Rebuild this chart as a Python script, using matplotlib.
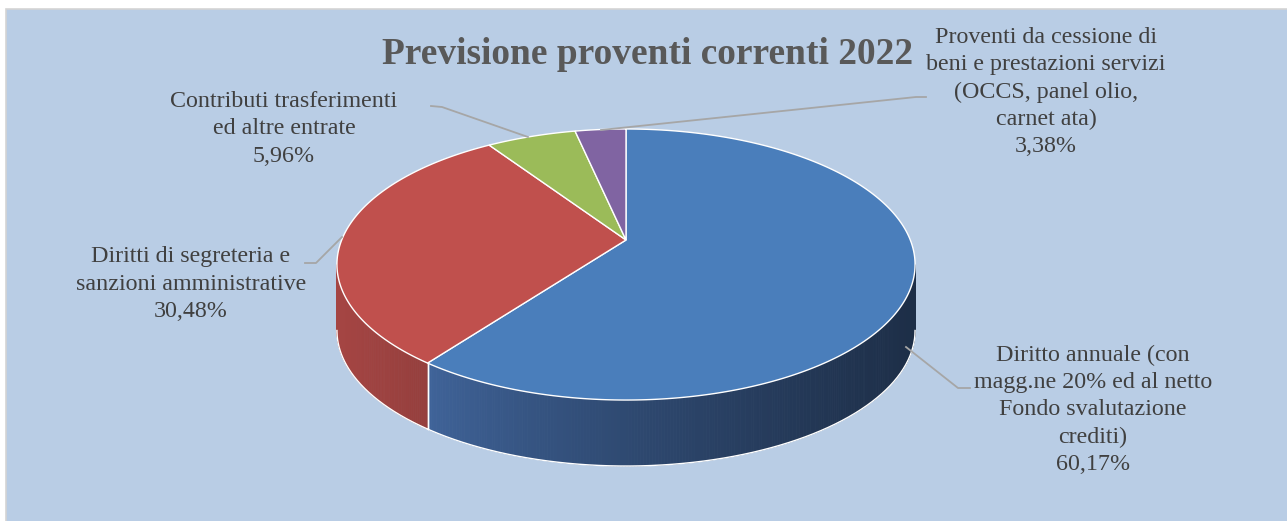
import numpy as np
import matplotlib
matplotlib.use("Agg")
import matplotlib.pyplot as plt
from matplotlib.patches import Polygon, Rectangle
from matplotlib.colors import to_rgb

# ---- data ----
categories = [
    "Diritto annuale (con\nmagg.ne 20% ed al netto\nFondo svalutazione\ncrediti)",
    "Diritti di segreteria e\nsanzioni amministrative",
    "Contributi trasferimenti\ned altre entrate",
    "Proventi da cessione di\nbeni e prestazioni servizi\n(OCCS, panel olio,\ncarnet ata)",
]
values = [60.17, 30.48, 5.96, 3.38]
pct_labels = ["60,17%", "30,48%", "5,96%", "3,38%"]
title = "Previsione proventi correnti 2022"

top_colors = ["#4A7EBB", "#C0504D", "#9BBB59", "#8064A2"]
side_left = ["#40649A", "#A54543", "#87A24D", "#6E568C"]
side_right = ["#1D2E47", "#953F3D", "#7A9446", "#614C7C"]

W, H = 1287, 521
fig = plt.figure(figsize=(W / 100, H / 100), dpi=100)
fig.patch.set_facecolor("white")
ax = fig.add_axes([0, 0, 1, 1])
ax.set_xlim(0, W)
ax.set_ylim(H, 0)
ax.axis("off")

# panel
ax.add_patch(Rectangle((6, 9), W + 20, H + 20, facecolor="#B9CDE5",
                       edgecolor="#D4D4D4", linewidth=1.2, zorder=0))

# 3D pie projection (perspective homography)
cx, cy = 626, 240
A, B, k = 284.3, 131.1, 0.1808
depth = 66


def proj(phi_deg, dz=0.0):
    p = np.radians(phi_deg)
    u, v = np.sin(p), np.cos(p)
    d = 1 + k * v
    return cx + A * u / d, cy - B * v / d + dz


frac = np.array(values) / sum(values)
bounds = np.concatenate([[0], np.cumsum(frac) * 360])

# visible side range
phi_r = np.degrees(np.arccos(-k))
phi_l = 360 - phi_r

# sides
for i in range(len(values)):
    a0 = max(bounds[i], phi_r)
    a1 = min(bounds[i + 1], phi_l)
    if a1 <= a0:
        continue
    n = max(int((a1 - a0) * 2), 2)
    ph = np.linspace(a0, a1, n + 1)
    x_lo = proj(a1)[0]
    x_hi = proj(a0)[0]
    cl = np.array(to_rgb(side_left[i]))
    cr = np.array(to_rgb(side_right[i]))
    for j in range(n):
        p1 = proj(ph[j]); p2 = proj(ph[j + 1])
        xm = (p1[0] + p2[0]) / 2
        t = (xm - x_lo) / max(x_hi - x_lo, 1)
        t = np.clip(t, 0, 1) ** 0.8 if i == 0 else np.clip(t, 0, 1)
        col = cl * (1 - t) + cr * t
        poly = [p1, p2, (p2[0], p2[1] + depth), (p1[0], p1[1] + depth)]
        ax.add_patch(Polygon(poly, closed=True, facecolor=col, edgecolor=col,
                             linewidth=0.6, zorder=2))
    # white outlines of side
    phb = np.linspace(a0, a1, 200)
    pts = np.array([proj(q, depth) for q in phb])
    ax.plot(pts[:, 0], pts[:, 1], color="white", lw=1.0, zorder=3)
    for a in (a0, a1):
        if a in (bounds[i], bounds[i + 1]) and phi_r < a < phi_l:
            p = proj(a)
            ax.plot([p[0], p[0]], [p[1], p[1] + depth], color="white", lw=1.0, zorder=3)

# top faces
for i in range(len(values)):
    ph = np.linspace(bounds[i], bounds[i + 1], 300)
    pts = [(cx, cy)] + [proj(q) for q in ph]
    ax.add_patch(Polygon(pts, closed=True, facecolor=top_colors[i],
                         edgecolor="white", linewidth=1.0, zorder=4))

# title
ax.text(648, 54, title, ha="center", va="center", fontsize=26.9,
        fontweight="bold", color="#595959", family="Liberation Serif")

# labels and leaders
label_pos = [(1093, 410), (191, 284), (284, 129), (1046, 92)]
leaders = [
    [(906, 347), (958, 388), (970, 388)],
    [(342, 237), (316, 263), (305, 263)],
    [(528, 137), (442, 107), (431, 106)],
    [(601, 130), (916, 97), (926, 97)],
]
for i in range(len(values)):
    ax.text(label_pos[i][0], label_pos[i][1], categories[i] + "\n" + pct_labels[i],
            ha="center", va="center", fontsize=17.3, color="#404040",
            family="Liberation Serif", linespacing=1.38, zorder=6)
    lx, ly = zip(*leaders[i])
    ax.plot(lx, ly, color="#A6A6A6", lw=1.3, zorder=5)

fig.savefig("out.png", dpi=100, facecolor="white")
